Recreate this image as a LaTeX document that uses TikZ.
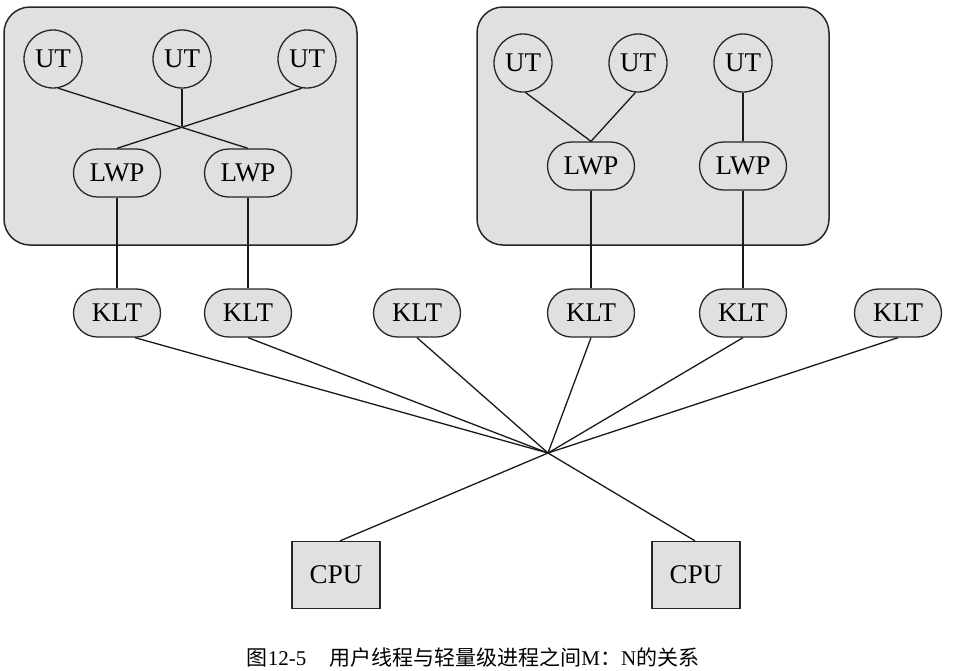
\documentclass[tikz,border=0pt]{standalone}
\usepackage{fontspec}
\setmainfont{Liberation Serif}
\newfontfamily\cjk{Noto Sans CJK SC}
\usetikzlibrary{shapes.misc,calc}
\definecolor{boxgray}{RGB}{222,224,226}
\tikzset{
  grp/.style={draw=black!85, line width=1.5pt, fill=boxgray, rounded corners=26pt},
  ut/.style={circle, draw=black!85, line width=1.3pt, minimum size=58pt, inner sep=0pt, font=\fontsize{27}{30}\selectfont},
  lwp/.style={rounded rectangle, draw=black!85, line width=1.3pt, fill=boxgray, minimum width=87pt, minimum height=48pt, inner sep=0pt, font=\fontsize{27}{30}\selectfont},
  cpu/.style={rectangle, draw=black!85, line width=1.3pt, fill=boxgray, minimum width=88pt, minimum height=67pt, inner sep=0pt, font=\fontsize{27}{30}\selectfont},
  link/.style={draw=black!90, line width=1.3pt},
}
\begin{document}
\begin{tikzpicture}[x=1pt,y=-1pt]
\useasboundingbox (0,0) rectangle (956,670);
% process groups
\draw[grp] (4,7) rectangle (357,245);
\draw[grp] (477,7) rectangle (829,245);
% left group
\node[ut] (u1) at (53,59) {UT};
\node[ut] (u2) at (182,59) {UT};
\node[ut] (u3) at (307,59) {UT};
\node[lwp] (l1) at (117,173) {LWP};
\node[lwp] (l2) at (248,173) {LWP};
\coordinate (x1) at (182,126);
\draw[link] (u1.-80) -- (l2.north);
\draw[link] (u3.-100) -- (l1.north);
\draw[link] (u2.south) -- (x1);
% right group
\node[ut] (u4) at (523,63) {UT};
\node[ut] (u5) at (638,63) {UT};
\node[ut] (u6) at (743,63) {UT};
\node[lwp] (l3) at (591,166) {LWP};
\node[lwp] (l4) at (743,166) {LWP};
\draw[link] (u4.-85) -- (l3.north);
\draw[link] (u5.-95) -- (l3.north);
\draw[link] (u6.south) -- (l4.north);
% KLT row
\node[lwp] (k1) at (117,313) {KLT};
\node[lwp] (k2) at (248,313) {KLT};
\node[lwp] (k3) at (417,313) {KLT};
\node[lwp] (k4) at (591,313) {KLT};
\node[lwp] (k5) at (743,313) {KLT};
\node[lwp] (k6) at (898,313) {KLT};
\draw[link] (l1.south) -- (k1.north);
\draw[link] (l2.south) -- (k2.north);
\draw[link] (l3.south) -- (k4.north);
\draw[link] (l4.south) -- (k5.north);
% hub
\coordinate (hub) at (548,453);
\draw[link] ($(k1.south)+(18,0)$) -- (hub);
\draw[link] (k2.south) -- (hub);
\draw[link] (k3.south) -- (hub);
\draw[link] (k4.south) -- (hub);
\draw[link] (k5.south) -- (hub);
\draw[link] (k6.south) -- (hub);
% CPUs
\node[cpu] (c1) at (336,575) {CPU};
\node[cpu] (c2) at (696,575) {CPU};
\draw[link] (hub) -- ($(c1.north)+(4,0)$);
\draw[link] (hub) -- ($(c2.north)+(-1,0)$);
% caption
\node[font=\fontsize{21}{24}\selectfont, inner sep=0pt] (cap) at (473,658)
  {{\cjk 图}12-5\hspace{1.1em}{\cjk 用户线程与轻量级进程之间}M{\cjk ：}N{\cjk 的关系}};
\end{tikzpicture}
\end{document}
